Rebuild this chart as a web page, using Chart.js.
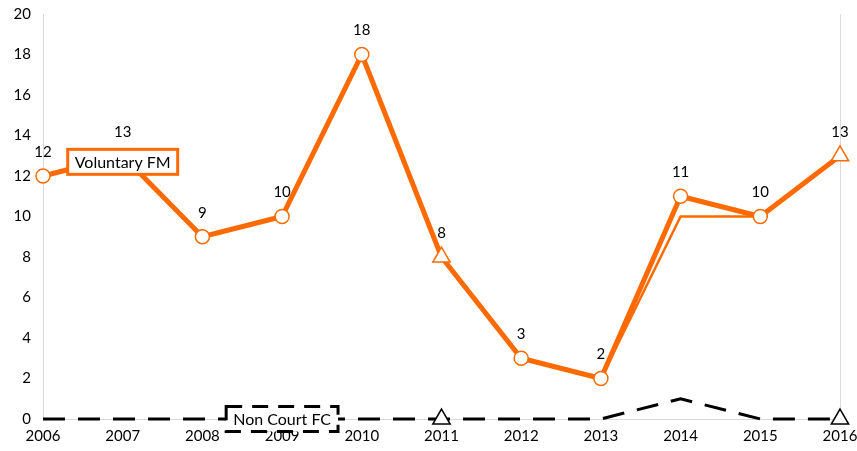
<!DOCTYPE html>
<html>
<head>
<meta charset="utf-8">
<script src="https://cdn.jsdelivr.net/npm/chart.js@4.4.0/dist/chart.umd.min.js"></script>
<style>
  html, body { margin: 0; padding: 0; background: #fff; }
  #wrap { width: 857px; height: 451px; }
</style>
</head>
<body>
<div id="wrap"><canvas id="c" width="857" height="451"></canvas></div>
<script>
const years = ['2006','2007','2008','2009','2010','2011','2012','2013','2014','2015','2016'];
const voluntaryFM = [12, 13, 9, 10, 18, 8, 3, 2, 11, 10, 13];
const voluntaryFMAlt = [12, 13, 9, 10, 18, 8, 3, 2, 10, 10, 13];
const nonCourtFC = [0, 0, 0, 0, 0, 0, 0, 0, 1, 0, 0];
const triangleAt = [5, 10];

const ORANGE = '#ff6a00';
const FONT = 'Lato, "Open Sans", sans-serif';

function styleArr(a, b) { return years.map((_, i) => triangleAt.includes(i) ? a : b); }

// value labels and the two boxed series names
const labelPlugin = {
  id: 'labels',
  afterDatasetsDraw(chart) {
    const ctx = chart.ctx;
    const xs = chart.scales.x, ys = chart.scales.y;
    ctx.save();
    ctx.font = '15px ' + FONT;
    ctx.fillStyle = '#000';
    ctx.textAlign = 'center';
    ctx.textBaseline = 'middle';
    voluntaryFM.forEach((v, i) => {
      ctx.fillText(String(v), xs.getPixelForValue(i), ys.getPixelForValue(v) - 24);
    });

    function box(text, cx, cy, stroke, dash) {
      ctx.font = '16px ' + FONT;
      const w = ctx.measureText(text).width + 14;
      const h = 25;
      ctx.fillStyle = '#fff';
      ctx.fillRect(cx - w / 2, cy - h / 2, w, h);
      ctx.lineWidth = 3;
      ctx.strokeStyle = stroke;
      ctx.setLineDash(dash);
      ctx.strokeRect(cx - w / 2, cy - h / 2, w, h);
      ctx.setLineDash([]);
      ctx.fillStyle = '#000';
      ctx.fillText(text, cx, cy + 1);
    }
    box('Voluntary FM', xs.getPixelForValue(1), ys.getPixelForValue(12.7), ORANGE, []);
    box('Non Court FC', xs.getPixelForValue(3), ys.getPixelForValue(0), '#000', [16, 10]);
    ctx.restore();
  }
};

new Chart(document.getElementById('c'), {
  type: 'line',
  data: {
    labels: years,
    datasets: [
      {
        label: 'Non Court FC',
        data: nonCourtFC,
        order: 0,
        borderColor: '#000',
        borderWidth: 3,
        borderDash: [22, 13],
        tension: 0,
        pointStyle: 'triangle',
        pointRadius: styleArr(10, 0),
        pointBackgroundColor: '#fff',
        pointBorderColor: '#000',
        pointBorderWidth: 1.5,
        clip: false
      },
      {
        label: 'Voluntary FM',
        data: voluntaryFM,
        order: 1,
        borderColor: ORANGE,
        borderWidth: 5,
        tension: 0,
        pointStyle: styleArr('triangle', 'circle'),
        pointRadius: styleArr(10, 7),
        pointBackgroundColor: '#fff',
        pointBorderColor: ORANGE,
        pointBorderWidth: 1.5,
        clip: false
      },
      {
        label: 'Voluntary FM (alt)',
        data: voluntaryFMAlt,
        order: 2,
        borderColor: ORANGE,
        borderWidth: 2.5,
        tension: 0,
        pointRadius: 0,
        clip: false
      }
    ]
  },
  options: {
    responsive: false,
    animation: false,
    layout: { padding: { top: 14, right: 17, left: 0, bottom: 0 } },
    plugins: { legend: { display: false }, tooltip: { enabled: false } },
    scales: {
      x: {
        offset: false,
        grid: {
          drawTicks: false,
          color: (c) => c.index === years.length - 1 ? '#d9d9d9' : 'rgba(0,0,0,0)'
        },
        border: { color: '#d9d9d9' },
        ticks: { color: '#000', font: { family: FONT, size: 15 }, padding: 8, maxRotation: 0, autoSkip: false },
        afterFit(s) { s.height = 32; s.paddingLeft = 0; s.paddingRight = 0; }
      },
      y: {
        min: 0,
        max: 20,
        grid: { display: false, drawTicks: false },
        border: { color: '#d9d9d9' },
        ticks: { stepSize: 2, color: '#000', font: { family: FONT, size: 15 }, padding: 12 },
        afterFit(s) { s.width = 43; s.paddingTop = 0; s.paddingBottom = 0; }
      }
    }
  },
  plugins: [labelPlugin]
});
</script>
</body>
</html>
